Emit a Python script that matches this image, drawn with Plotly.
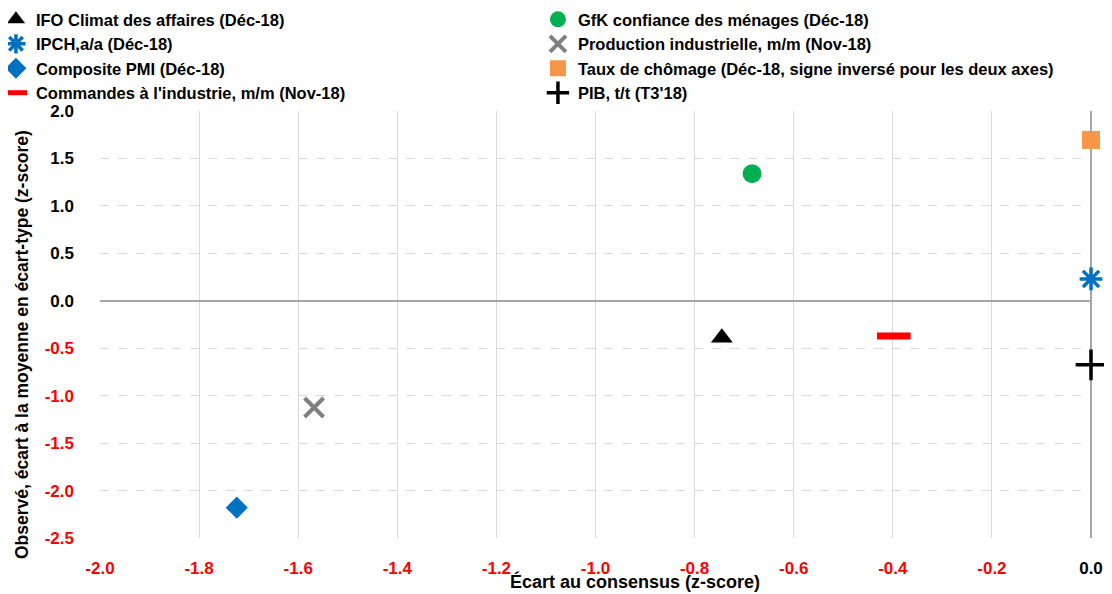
import plotly.graph_objects as go

# ---- data ----
series_names = [
    "IFO Climat des affaires (Déc-18)",
    "GfK confiance des ménages (Déc-18)",
    "IPCH,a/a (Déc-18)",
    "Production industrielle, m/m (Nov-18)",
    "Composite PMI (Déc-18)",
    "Taux de chômage (Déc-18, signe inversé pour les deux axes)",
    "Commandes à l'industrie, m/m (Nov-18)",
    "PIB, t/t (T3'18)",
]
surprise_x = [-0.745, -0.684, 0.0, -1.568, -1.724, 0.0, -0.398, 0.0]
observed_y = [-0.39, 1.34, 0.23, -1.125, -2.18, 1.695, -0.37, -0.675]

x_ticks = [-2.0, -1.8, -1.6, -1.4, -1.2, -1.0, -0.8, -0.6, -0.4, -0.2, 0.0]
y_ticks = [2.0, 1.5, 1.0, 0.5, 0.0, -0.5, -1.0, -1.5, -2.0, -2.5]

# ---- styles ----
styles = [
    dict(symbol="triangle-up", color="#000000", size=19, line=dict(width=0)),
    dict(symbol="circle", color="#00B050", size=19, line=dict(width=0)),
    dict(symbol="asterisk-open", color="#0070C0", size=19, line=dict(width=3.5, color="#0070C0")),
    dict(symbol="x-thin-open", color="#808080", size=19, line=dict(width=4, color="#808080")),
    dict(symbol="diamond", color="#0070C0", size=17, line=dict(width=0)),
    dict(symbol="square", color="#F79646", size=18, line=dict(width=0)),
    dict(symbol="line-ew-open", color="#FF0000", size=24, line=dict(width=7, color="#FF0000")),
    dict(symbol="cross-thin-open", color="#000000", size=22, line=dict(width=3.5, color="#000000")),
]

FONT = "Liberation Sans Narrow, Arial Narrow, Liberation Sans, Arial, sans-serif"

fig = go.Figure()
for name, xv, yv, st in zip(series_names, surprise_x, observed_y, styles):
    fig.add_trace(go.Scatter(
        x=[xv], y=[yv], mode="markers", name=name,
        marker=dict(symbol=st["symbol"], color=st["color"], size=st["size"], line=st["line"]),
        cliponaxis=False,
    ))

def fmt(v, red):
    s = f"{v:.1f}"
    return f'<span style="color:#FF0000">{s}</span>' if red else s

fig.update_layout(
    width=1104, height=586,
    margin=dict(l=92, r=21, t=103, b=56, autoexpand=False),
    paper_bgcolor="white", plot_bgcolor="white",
    font=dict(family=FONT, size=17, color="#000000"),
    showlegend=True,
    legend=dict(
        orientation="h", xref="paper", yref="paper",
        x=-0.105, xanchor="left", y=1.255, yanchor="top",
        entrywidth=497, entrywidthmode="pixels",
        font=dict(family=FONT, size=16.5, color="#000000", weight="bold"),
        itemwidth=30, tracegroupgap=0, bgcolor="rgba(0,0,0,0)",
    ),
    xaxis=dict(
        range=[-2.0, 0.0], automargin=False,
        tickmode="array", tickvals=x_ticks,
        ticktext=[fmt(v, v < 0) for v in x_ticks],
        tickfont=dict(family=FONT, size=17, weight="bold"),
        showgrid=True, gridcolor="#D9D9D9", gridwidth=1, griddash="solid",
        zeroline=True, zerolinecolor="#A6A6A6", zerolinewidth=2,
        showline=False, ticks="", ticklabelstandoff=18,
    ),
    yaxis=dict(
        range=[-2.5, 2.0], automargin=False,
        tickmode="array", tickvals=y_ticks,
        ticktext=[fmt(v, v < 0) for v in y_ticks],
        tickfont=dict(family=FONT, size=17, weight="bold"),
        showgrid=True, gridcolor="#D9D9D9", gridwidth=1, griddash="dash",
        zeroline=True, zerolinecolor="#A6A6A6", zerolinewidth=2,
        showline=False, ticks="", ticklabelstandoff=25,
    ),
    annotations=[
        dict(text="<b>Écart au consensus (z-score)</b>", xref="paper", yref="paper",
             x=0.54, y=-0.102, xanchor="center", yanchor="middle", showarrow=False,
             font=dict(family=FONT, size=18, color="#000000")),
        dict(text="<b>Observé, écart à la moyenne en écart-type (z-score)</b>", xref="paper", yref="paper",
             x=-0.0787, y=0.452, xanchor="center", yanchor="middle", textangle=-90, showarrow=False,
             font=dict(family=FONT, size=17.5, color="#000000")),
    ],
)

fig.write_html("out.html")
